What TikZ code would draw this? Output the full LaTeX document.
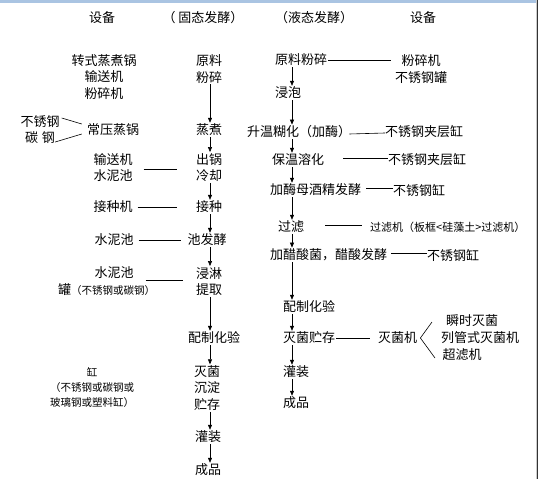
\documentclass[tikz,border=0pt]{standalone}
\usepackage{fontspec}
\newfontfamily\cjk{Noto Sans CJK SC}
\usetikzlibrary{arrows.meta,calc}
\definecolor{topband}{RGB}{170,196,226}
\begin{document}
\begin{tikzpicture}[x=1pt,y=-1pt,
  txt/.style={font=\cjk\fontsize{13}{16.5}\selectfont, inner sep=1pt, align=center},
  sml/.style={font=\cjk\fontsize{10.5}{15}\selectfont, inner sep=1pt, align=center},
  arr/.style={-{Triangle[length=5pt,width=4pt]}, line width=0.6pt},
  lnk/.style={line width=0.6pt}]
\useasboundingbox (0,0) rectangle (539,479);
\fill[white] (0,0) rectangle (539,479);
\fill[topband] (0,0) rectangle (536,2.5);
\draw[gray!40, line width=1pt] (536,0) -- (536,479);
\draw[black!80, line width=1.3pt] (537.7,0) -- (537.7,479);

% headers
\node[txt] (h1) at (102,18) {设备};
\node[txt] (h2) at (203,18) {（ 固态发酵）};
\node[txt] (h3) at (314,18) {（液态发酵）};
\node[txt] (h4) at (423,18) {设备};

% solid-state column
\coordinate (ax) at (210,0);
\node[txt] (s1) at (209,69) {原料\\粉碎};
\node[txt] (s2) at (209,130) {蒸煮};
\node[txt] (s3) at (209,167.5) {出锅\\冷却};
\node[txt] (s4) at (209,207) {接种};
\node[txt] (s5) at (207,240) {池发酵};
\node[txt] (s6) at (209,281.5) {浸淋\\提取};
\node[txt, anchor=west] (s7) at (187,338) {配制化验};
\node[txt] (s8) at (207,388) {灭菌\\沉淀\\贮存};
\node[txt] (s9) at (208,437) {灌装};
\node[txt] (s10) at (208,470) {成品};
\foreach \a/\b in {s1/s2,s2/s3,s3/s4,s4/s5,s5/s6,s6/s7,s7/s8,s8/s9,s9/s10}
  \draw[arr] (ax |- \a.south) -- (ax |- \b.north);

% left equipment
\node[txt] (e1) at (104,77) {转式蒸煮锅\\输送机\\粉碎机};
\node[txt] (e2) at (113,130) {常压蒸锅};
\node[txt] (e2a) at (40,122) {不锈钢};
\node[txt] (e2b) at (40,138) {碳\hspace{0.3em}钢};
\draw[lnk] ($(e2a.east)+(1,-4)$) -- ($(e2.west)+(-4,-6)$);
\draw[lnk] ($(e2b.east)+(-1,4)$) -- ($(e2.west)+(-4,4)$);
\node[txt] (e3) at (113,167.5) {输送机\\水泥池};
\draw[lnk] ($(e3.east)+(10,2)$) -- ($(s3.west)+(-18,2)$);
\node[txt] (e4) at (113,207) {接种机};
\draw[lnk] ($(e4.east)+(4,0)$) -- ($(s4.west)+(-18,0)$);
\node[txt] (e5) at (114,240) {水泥池};
\draw[lnk] ($(e5.east)+(4,0)$) -- ($(s5.west)+(-5,0)$);
\node[txt] (e6) at (114,273) {水泥池};
\node[txt, anchor=west] (e6b) at (57,290) {罐{\fontsize{10.5}{15}\selectfont（不锈钢或碳钢）}};
\draw[lnk] ($(e6.east)+(11,7)$) -- ($(s6.west)+(-12,-1.5)$);
\node[sml] (e7) at (92,388) {缸\\（不锈钢或碳钢或\\玻璃钢或塑料缸）};

% liquid-state column
\coordinate (bx) at (292,0);
\node[txt, anchor=west] (r1) at (274,60) {原料粉碎};
\node[txt, anchor=west] (r2) at (274,93) {浸泡};
\node[txt, anchor=west] (r3) at (246,132) {升温糊化（加酶）};
\node[txt, anchor=west] (r4) at (271,160) {保温溶化};
\node[txt, anchor=west] (r5) at (269,190) {加酶母酒精发酵};
\node[txt, anchor=west] (r6) at (277,227) {过滤};
\node[txt, anchor=west] (r7) at (269,255) {加醋酸菌，醋酸发酵};
\node[txt, anchor=west] (r8) at (282,307) {配制化验};
\node[txt, anchor=west] (r9) at (282,338) {灭菌贮存};
\node[txt, anchor=west] (r10) at (282,372) {灌装};
\node[txt, anchor=west] (r11) at (282,403) {成品};
\foreach \a/\b in {r1/r2,r2/r3,r3/r4,r4/r5,r5/r6,r6/r7,r7/r8,r8/r9,r9/r10,r10/r11}
  \draw[arr] (bx |- \a.south) -- (bx |- \b.north);

% right equipment
\node[txt] (q1) at (421,69) {粉碎机\\不锈钢罐};
\draw[lnk] (r1.east) -- ($(r1.east -| q1.west)+(-3,0)$);
\node[txt, anchor=west] (q3) at (384,132) {不锈钢夹层缸};
\draw[lnk] ($(r3.east)+(-3,2)$) -- ($(q3.west)+(1,1)$);
\node[txt, anchor=west] (q4) at (387,160) {不锈钢夹层缸};
\draw[lnk] ($(r4.east)+(18,-2)$) -- ($(q4.west)+(1,-2)$);
\node[txt, anchor=west] (q5) at (392,190) {不锈钢缸};
\draw[lnk] ($(r5.east)+(4,-2)$) -- ($(q5.west)+(1,-2)$);
\node[sml, anchor=west, font=\cjk\fontsize{11}{15}\selectfont] (q6) at (369,227) {过滤机（板框<硅藻土>过滤机）};
\draw[lnk] ($(r6.east)+(20,-2)$) -- ($(q6.west)+(-7,-2)$);
\node[txt, anchor=west] (q7) at (426,255) {不锈钢缸};
\draw[lnk] ($(r7.east)+(3,-2)$) -- ($(q7.west)+(1,-2)$);
\node[txt, anchor=west] (q9) at (377,338) {灭菌机};
\draw[lnk] (r9.east) -- ($(q9.west)+(-7,0)$);
\node[txt] (q9a) at (472,321) {瞬时灭菌};
\node[txt] (q9b) at (480,338) {列管式灭菌机};
\node[txt] (q9c) at (462,355) {超滤机};
\coordinate (fork) at ($(q9.east)+(2,0)$);
\draw[lnk] (fork) -- (432,322);
\draw[lnk] (fork) -- (435,358);
\end{tikzpicture}
\end{document}
